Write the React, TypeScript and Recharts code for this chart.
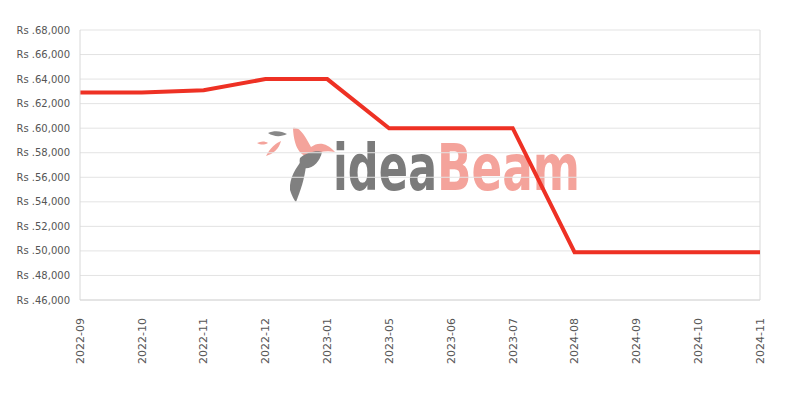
import { LineChart, Line, XAxis, YAxis, CartesianGrid, ReferenceLine } from "recharts";

const months = [
  "2022-09", "2022-10", "2022-11", "2022-12", "2023-01", "2023-05",
  "2023-06", "2023-07", "2024-08", "2024-09", "2024-10", "2024-11",
];
const prices = [62900, 62900, 63100, 64000, 64000, 59999, 59999, 59999, 49900, 49900, 49900, 49900];
const yTicks = [46000, 48000, 50000, 52000, 54000, 56000, 58000, 60000, 62000, 64000, 66000, 68000];

const data = months.map((m, i) => ({ month: m, price: prices[i] }));

const FONT = "'DejaVu Sans', sans-serif";

function MonthTick(props: any) {
  const { x, y, payload } = props;
  return (
    <text
      x={x}
      y={y + 10}
      transform={`rotate(-90, ${x}, ${y + 10})`}
      textAnchor="end"
      dy="0.35em"
      fontFamily={FONT}
      fontSize={11}
      fill="#555"
    >
      {payload.value}
    </text>
  );
}

function Watermark() {
  return (
    <svg width={800} height={400} style={{ position: "absolute", left: 0, top: 0 }}>
      {/* bird */}
      <path d="M293 128 C300 126 306 138 311 147 C318 142 326 142 335 152 C326 150 318 152 312 156 C302 158 294 150 293 128 Z" fill="#f4a39b" />
      <path d="M268 133 C274 130 282 131 287 134 C281 137 274 137 268 133 Z" fill="#888" />
      <path d="M257 143 C261 141 265 141 268 143 C264 145 261 145 257 143 Z" fill="#f4a39b" />
      <path d="M266 156 C270 148 276 143 281 141 C279 149 273 154 266 156 Z" fill="#f4a39b" />
      <path d="M300 158 C306 152 318 150 322 152 C320 162 312 170 303 168 C300 166 299 162 300 158 Z" fill="#808080" />
      <path d="M302 160 C296 168 289 178 290 190 C292 196 294 200 296 202 C300 192 305 178 306 165 Z" fill="#808080" />
      <text
        x={333}
        y={190}
        fontFamily={FONT}
        fontWeight="bold"
        fontSize={64}
        fill="#7b7b7b"
        textLength={104}
        lengthAdjust="spacingAndGlyphs"
      >
        idea
      </text>
      <text
        x={437}
        y={190}
        fontFamily={FONT}
        fontWeight="bold"
        fontSize={64}
        fill="#f4a39b"
        textLength={143}
        lengthAdjust="spacingAndGlyphs"
      >
        Beam
      </text>
    </svg>
  );
}

export default function App() {
  return (
    <div style={{ position: "fixed", left: 0, top: 0, width: 800, height: 400, background: "#fff" }}>
      <Watermark />
      <div style={{ position: "absolute", left: 0, top: 0 }}>
        <LineChart width={800} height={400} data={data} margin={{ top: 30, right: 40, bottom: 0, left: 0 }}>
          <CartesianGrid vertical={false} stroke="#e3e3e3" />
          <XAxis
            dataKey="month"
            interval={0}
            height={100}
            tick={<MonthTick />}
            tickLine={false}
            axisLine={{ stroke: "#d8d8d8" }}
          />
          <YAxis
            domain={[46000, 68000]}
            ticks={yTicks}
            width={80}
            interval={0}
            tickLine={false}
            axisLine={{ stroke: "#d8d8d8" }}
            tick={{ fontFamily: FONT, fontSize: 10, fill: "#555" }}
            tickMargin={4}
            tickFormatter={(v: number) => `Rs .${v.toLocaleString("en-US")}`}
          />
          <ReferenceLine x="2024-11" stroke="#d8d8d8" />
          <Line
            type="linear"
            dataKey="price"
            stroke="#ee3124"
            strokeWidth={4}
            dot={false}
            isAnimationActive={false}
          />
        </LineChart>
      </div>
    </div>
  );
}
